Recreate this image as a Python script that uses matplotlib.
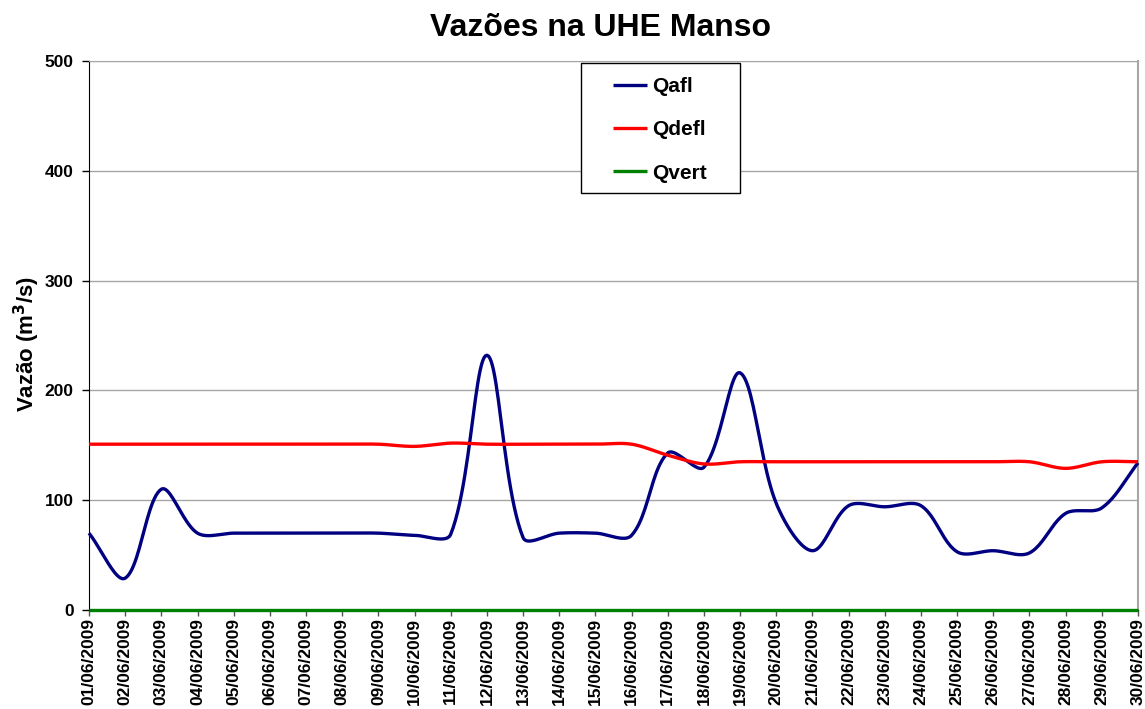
import numpy as np
import matplotlib
matplotlib.use('Agg')
import matplotlib.pyplot as plt
from matplotlib.patches import Rectangle

plt.rcParams['font.family'] = ['Liberation Sans', 'DejaVu Sans']

# daily values, June 2009
dias = ['%02d/06/2009' % d for d in range(1, 31)]
qafl = [70, 29, 110, 70, 70, 70, 70, 70, 70, 68,
        69, 232, 66, 70, 70, 68, 143, 130, 216, 97,
        54, 95, 94, 95, 53, 54, 52, 88, 93, 134]
qdefl = [151, 151, 151, 151, 151, 151, 151, 151, 151, 149,
         152, 151, 151, 151, 151, 151, 141, 133, 135, 135,
         135, 135, 135, 135, 135, 135, 135, 129, 135, 135]
qvert = [0] * 30

# pixel size of one day / one m3/s, used so the smoothing acts like excel's
SX, SY = 36.17, 1.098


def smooth(x, y, n=24):
    # bezier through the points, tangents split by chord length (excel-like)
    P = np.column_stack([np.asarray(x, float) * SX, np.asarray(y, float) * SY])
    k = len(P)
    out = [P[:1]]
    t = np.linspace(0, 1, n + 1)[1:, None]
    for i in range(k - 1):
        p0, p3 = P[i], P[i + 1]
        a = P[max(i - 1, 0)]
        b = P[min(i + 2, k - 1)]
        d = np.linalg.norm(p3 - p0)
        da = np.linalg.norm(p0 - a)
        db = np.linalg.norm(b - p3)
        c1 = p0 + (p3 - a) * (d / (da + d)) / 3 if da + d > 0 else p0
        c2 = p3 - (b - p0) * (d / (db + d)) / 3 if db + d > 0 else p3
        seg = ((1 - t) ** 3) * p0 + 3 * ((1 - t) ** 2) * t * c1 \
            + 3 * (1 - t) * t ** 2 * c2 + t ** 3 * p3
        out.append(seg)
    pts = np.vstack(out)
    return pts[:, 0] / SX, pts[:, 1] / SY


fig = plt.figure(figsize=(11.45, 7.09), dpi=100)
ax = fig.add_axes([89 / 1145, 1 - 610 / 709, (1138 - 89) / 1145, (610 - 61) / 709])

x = np.arange(len(dias))
for data, cor, nome in ((qafl, '#000080', 'Qafl'),
                        (qdefl, '#ff0000', 'Qdefl'),
                        (qvert, '#008000', 'Qvert')):
    xs, ys = smooth(x, data)
    ax.plot(xs, ys, color=cor, lw=2.4, label=nome, solid_capstyle='butt',
            zorder=4, clip_on=False)

ax.set_xlim(0, len(dias) - 1)
ax.set_ylim(0, 500)
ax.set_yticks(np.arange(0, 501, 100))
ax.set_xticks(x)
ax.set_xticklabels(dias, rotation=90, fontsize=12.5, fontweight='bold', va='top')
for lbl in ax.get_yticklabels():
    lbl.set_fontweight('bold')
ax.tick_params(axis='y', labelsize=12.5, length=5, width=1, pad=6, direction='out')
ax.tick_params(axis='x', length=4, width=1, pad=2, direction='out', color='#555555')
ax.yaxis.grid(True, color='#a6a6a6', lw=1)
ax.set_axisbelow(True)
ax.spines['top'].set_color('#a6a6a6')
ax.spines['right'].set_color('#a6a6a6')
ax.spines['right'].set_linewidth(1.5)
ax.spines['left'].set_color('black')
ax.spines['bottom'].set_color('black')

ax.set_ylabel('Vazão (m$^\\mathbf{3}$/s)', fontsize=16, fontweight='bold', va='center')
ax.yaxis.set_label_coords(-62 / 1049, 0.485)

fig.text(601 / 1145, 1 - 28 / 709, 'Vazões na UHE Manso', fontsize=23,
         fontweight='bold', ha='center', va='center')

# legend: text inside a plain black box
ax.add_patch(Rectangle((581 / 1145, 1 - 193 / 709), 159 / 1145, 130 / 709,
                       transform=fig.transFigure, facecolor='white',
                       edgecolor='black', lw=1, zorder=5, clip_on=False))
leg = ax.legend(loc='upper left', bbox_to_anchor=(613 / 1145, 1 - 77 / 709),
                bbox_transform=fig.transFigure, frameon=False,
                prop={'weight': 'bold', 'size': 15}, handlelength=1.65,
                labelspacing=1.17, borderpad=0, handletextpad=0.25,
                borderaxespad=0)
leg.set_zorder(6)
for h in leg.get_lines():
    h.set_linewidth(2.4)

fig.savefig('out.png', dpi=100)
